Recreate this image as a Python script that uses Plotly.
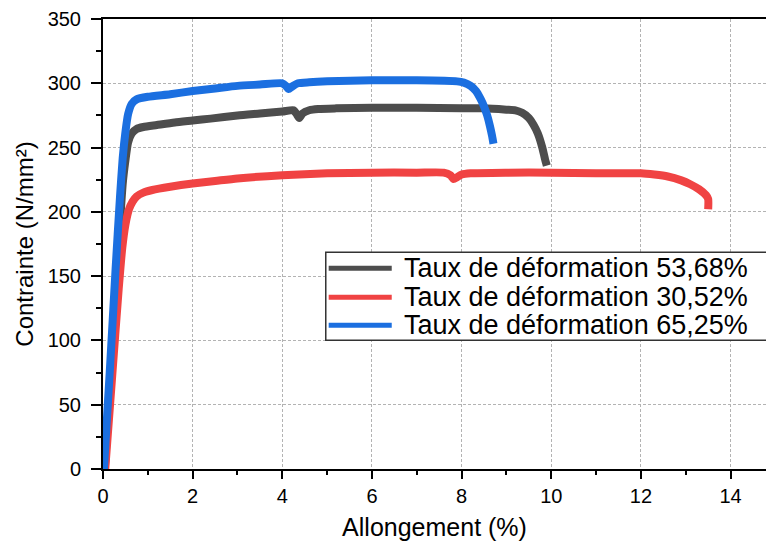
import plotly.graph_objects as go

# Stress-strain curves: elongation (%) vs stress (N/mm²)
series_names = [
    "Taux de déformation 53,68%",
    "Taux de déformation 30,52%",
    "Taux de déformation 65,25%",
]
series_colors = ["#4d4d4d", "#f04343", "#1b6fe0"]

gray_x = [0.04, 0.2, 0.35, 0.44, 0.5, 0.56, 0.64, 0.75, 0.9, 1.2, 1.6, 2.0, 2.4, 3.0, 3.5,
          4.0, 4.25, 4.32, 4.38, 4.45, 4.6, 4.8, 5.2, 6.0, 7.0, 8.0, 8.5, 9.0, 9.2, 9.35,
          9.5, 9.6, 9.7, 9.8, 9.86, 9.9]
gray_y = [0, 90, 175, 222, 240, 254, 261, 264.5, 266, 267.5, 269.5, 271, 272.5, 275, 276.5,
          278, 279, 276, 273, 276.5, 279, 280, 280.5, 281, 281, 280.5, 280.5, 279.5, 279, 277,
          273, 268, 261, 250, 241, 236]

red_x = [0.05, 0.2, 0.35, 0.43, 0.5, 0.58, 0.66, 0.75, 0.9, 1.1, 1.5, 2.0, 2.5, 3.0, 4.0, 5.0,
         6.0, 7.0, 7.6, 7.75, 7.82, 7.9, 8.0, 8.2, 9.0, 10.0, 11.0, 12.0, 12.3, 12.6, 12.9,
         13.1, 13.3, 13.45, 13.5, 13.5]
red_y = [0, 70, 140, 172, 190, 202, 208, 212, 215, 217, 219.5, 222, 224, 226, 228.5, 230,
         230.5, 230.5, 230.5, 228.5, 225.5, 227, 229, 230, 230.5, 230.5, 230, 230, 229, 227.5, 224.5,
         221.5, 217.5, 213, 210, 202]

blue_x = [0.02, 0.15, 0.28, 0.38, 0.44, 0.5, 0.56, 0.64, 0.75, 1.0, 1.5, 2.0, 2.5, 3.0, 3.5,
          4.0, 4.08, 4.14, 4.22, 4.35, 4.6, 5.0, 6.0, 7.0, 7.9, 8.05, 8.2, 8.32, 8.42, 8.5,
          8.57, 8.63, 8.68, 8.71]
blue_y = [0, 75, 155, 212, 242, 262, 276, 284, 287.5, 289.5, 291.5, 294, 296, 298, 299,
          300, 298, 295.5, 297.5, 300, 300.8, 301.5, 302.3, 302.3, 301.5, 300.5, 298, 294, 288, 282,
          275, 267, 259, 253]

x_ticks = [0, 2, 4, 6, 8, 10, 12, 14]
y_ticks = [0, 50, 100, 150, 200, 250, 300, 350]

FONT = "Liberation Sans, Arial, sans-serif"

fig = go.Figure()
for xs, ys, name, color in zip([gray_x, red_x, blue_x], [gray_y, red_y, blue_y],
                               series_names, series_colors):
    fig.add_trace(go.Scatter(x=xs, y=ys, mode="lines", name=name,
                             line=dict(color=color, width=8, shape="spline", smoothing=0.6),
                             showlegend=False))

axis_common = dict(
    ticks="outside", tickwidth=2, tickcolor="black",
    showline=True, linewidth=2, linecolor="black",
    showgrid=True, gridcolor="#b3b3b3", gridwidth=1, griddash="3px,2px",
    zeroline=False, tickfont=dict(size=20, family=FONT, color="black"),
)

fig.update_xaxes(
    range=[0, 14.79], tickvals=x_ticks, ticklen=8, mirror=True,
    minor=dict(dtick=1, tick0=0, ticklen=4, tickwidth=2, tickcolor="black",
               ticks="outside", showgrid=False),
    title=dict(text="Allongement (%)", font=dict(size=25, family=FONT), standoff=12),
    **axis_common,
)
fig.update_yaxes(
    range=[0, 350], tickvals=y_ticks, ticklen=10, ticklabelstandoff=6,
    minor=dict(dtick=25, tick0=0, ticklen=5, tickwidth=2, tickcolor="black",
               ticks="outside", showgrid=False),
    title=dict(text="Contrainte (N/mm²)", font=dict(size=24, family=FONT), standoff=7),
    **axis_common,
)

# Legend panel drawn in paper coordinates
box_x0, box_x1, box_y0, box_y1 = 0.336, 1.02, 0.286, 0.4816
line_x0, line_x1, text_x = 0.3404, 0.4355, 0.4506
row_y = [0.446, 0.3815, 0.3192]

shapes = [dict(type="rect", xref="paper", yref="paper", x0=box_x0, x1=box_x1,
               y0=box_y0, y1=box_y1, fillcolor="white",
               line=dict(color="#333333", width=1.5), layer="above")]
annotations = []
for name, color, yy in zip(series_names, series_colors, row_y):
    shapes.append(dict(type="line", xref="paper", yref="paper", x0=line_x0, x1=line_x1,
                       y0=yy, y1=yy, line=dict(color=color, width=5), layer="above"))
    annotations.append(dict(text=name, xref="paper", yref="paper", x=text_x, y=yy,
                            xanchor="left", yanchor="middle", showarrow=False,
                            font=dict(size=27, family=FONT, color="black")))

fig.update_layout(
    width=766, height=543,
    margin=dict(l=103, r=0, t=19, b=74),
    plot_bgcolor="white", paper_bgcolor="white",
    font=dict(family=FONT, color="black"),
    showlegend=False,
    shapes=shapes, annotations=annotations,
)

fig.write_html("out.html")
